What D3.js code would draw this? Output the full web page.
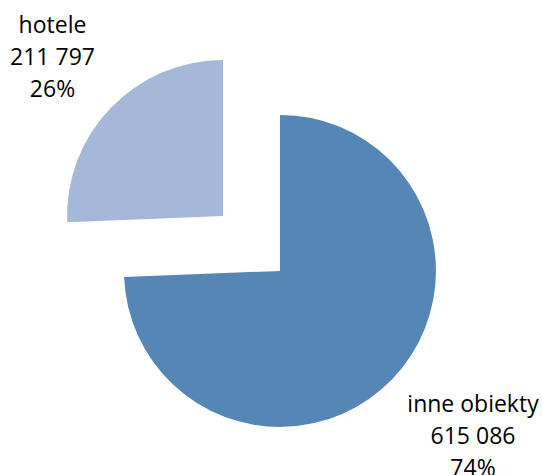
<!DOCTYPE html>
<html>
<head>
<meta charset="utf-8">
<script src="https://cdn.jsdelivr.net/npm/d3@7"></script>
<style>
  html, body { margin: 0; padding: 0; background: #fff; }
  svg { display: block; }
</style>
</head>
<body>
<svg id="chart" width="542" height="475"></svg>
<script>
// Accommodation by type of establishment
const categories = ["inne obiekty", "hotele"];
const values = [615086, 211797];
const valueLabels = ["615 086", "211 797"];
const percentLabels = ["74%", "26%"];
const colors = ["#5586B6", "#A5B8D9"];

const width = 542, height = 475;
const cx = 251.5, cy = 243.5;
const radius = 156;
const explode = 39.5;

const svg = d3.select("#chart");

const pie = d3.pie().sort(null).value(d => d).startAngle(0).endAngle(2 * Math.PI);
const arcs = pie(values);
const arc = d3.arc().innerRadius(0).outerRadius(radius);

const g = svg.append("g").attr("transform", `translate(${cx},${cy})`);

g.selectAll("path.slice")
  .data(arcs)
  .join("path")
  .attr("class", "slice")
  .attr("fill", (d, i) => colors[i])
  .attr("transform", d => {
    const mid = (d.startAngle + d.endAngle) / 2;
    return `translate(${Math.sin(mid) * explode},${-Math.cos(mid) * explode})`;
  })
  .attr("d", arc);

// Data labels placed outside each slice
const labelPos = [
  { x: 473, y: 412 },
  { x: 52.5, y: 33 }
];
const lineH = 32;

const labels = svg.selectAll("text.lbl")
  .data(arcs)
  .join("text")
  .attr("class", "lbl")
  .attr("text-anchor", "middle")
  .attr("font-family", "'Open Sans', sans-serif")
  .attr("font-size", 23)
  .attr("fill", "#000");

labels.each(function (d, i) {
  const t = d3.select(this);
  const p = labelPos[i];
  [categories[i], valueLabels[i], percentLabels[i]].forEach((s, k) => {
    t.append("tspan").attr("x", p.x).attr("y", p.y + k * lineH).text(s);
  });
});
</script>
</body>
</html>
